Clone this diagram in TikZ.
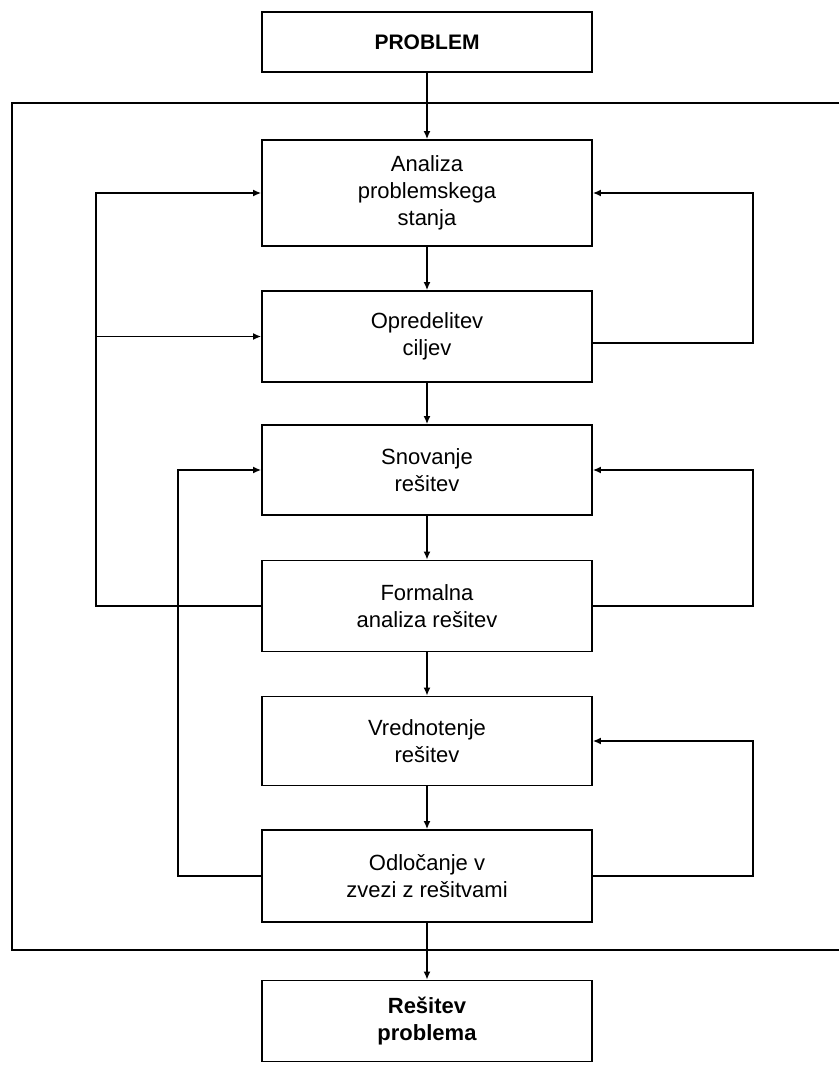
\documentclass[tikz,border=0pt]{standalone}
\usepackage{fontspec}
\setmainfont{Liberation Sans}
\usetikzlibrary{arrows.meta}
\begin{document}
\begin{tikzpicture}[x=1pt,y=-1pt,
  box/.style={draw,line width=1.8pt,minimum width=330pt,align=center,inner sep=0pt,
    font=\fontsize{22}{27}\selectfont},
  conn/.style={line width=1.5pt},
  arr/.style={conn,-{Latex[length=8pt,width=7pt]}}]
\useasboundingbox (0,0) rectangle (839,1071);
\fill[white] (0,0) rectangle (839,1071);
% frame
\draw[line width=1.6pt] (839,103) -- (12,103) -- (12,950) -- (839,950);
% boxes
\node[box,minimum height=60pt,font=\fontsize{21}{27}\selectfont\bfseries] (p) at (427,42) {PROBLEM};
\node[box,minimum height=106pt] (a) at (427,193) {Analiza\\problemskega\\stanja};
\node[box,minimum height=91pt] (o) at (427,336.5) {Opredelitev\\ciljev};
\node[box,minimum height=90pt] (s) at (427,470) {Snovanje\\rešitev};
\node[box,minimum height=91pt] (f) at (427,606) {Formalna\\analiza rešitev};
\node[box,minimum height=89pt] (v) at (427,741) {Vrednotenje\\rešitev};
\node[box,minimum height=92pt] (d) at (427,876) {Odločanje v\\zvezi z rešitvami};
\node[box,minimum height=81pt,font=\fontsize{22}{27}\selectfont\bfseries] (r) at (427,1021) {Rešitev\\problema};
% main chain
\draw[arr] (p) -- (a);
\draw[arr] (a) -- (o);
\draw[arr] (o) -- (s);
\draw[arr] (s) -- (f);
\draw[arr] (f) -- (v);
\draw[arr] (v) -- (d);
\draw[arr] (d) -- (r);
% left feedback
\coordinate (l1) at (96,606);
\coordinate (l2) at (96,193);
\coordinate (l3) at (96,336.5);
\draw[arr] (f.west) -- (l1) -- (l2) -- (a.west);
\draw[arr] (l3) -- (o.west);
\coordinate (m1) at (178,876);
\coordinate (m2) at (178,470);
\draw[arr] (d.west) -- (m1) -- (m2) -- (s.west);
% right feedback
\coordinate (r1) at (753,343);
\coordinate (r2) at (753,193);
\draw[arr] (o.east |- r1) -- (r1) -- (r2) -- (a.east);
\coordinate (r3) at (753,606);
\coordinate (r4) at (753,470);
\draw[arr] (f.east) -- (r3) -- (r4) -- (s.east);
\coordinate (r5) at (753,876);
\coordinate (r6) at (753,741);
\draw[arr] (d.east) -- (r5) -- (r6) -- (v.east);
\end{tikzpicture}
\end{document}
